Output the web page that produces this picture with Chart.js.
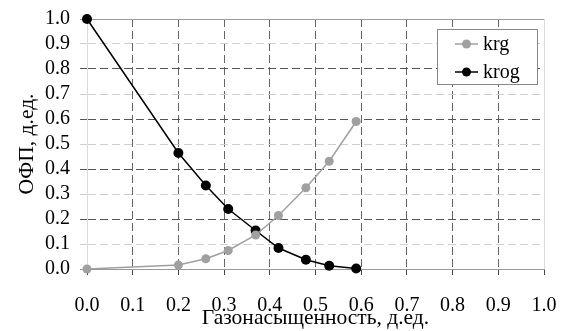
<!DOCTYPE html>
<html>
<head>
<meta charset="utf-8">
<script src="https://cdn.jsdelivr.net/npm/chart.js@4"></script>
<style>
  html, body { margin: 0; padding: 0; background: #fff; }
  #wrap { width: 561px; height: 331px; }
</style>
</head>
<body>
<div id="wrap"><canvas id="myChart"></canvas></div>
<script>
// Газонасыщенность (x) and ОФП values
let sg = [0.0, 0.2, 0.26, 0.309, 0.369, 0.419, 0.479, 0.53, 0.589];
let krg = [0.0, 0.016, 0.041, 0.074, 0.136, 0.214, 0.325, 0.431, 0.59];
let krog = [1.0, 0.464, 0.334, 0.24, 0.154, 0.084, 0.037, 0.013, 0.002];
let seriesNames = ['krg', 'krog'];
let seriesColors = ['#a0a0a0', '#000000'];

let serif = "'Liberation Serif', 'Times New Roman', serif";

function toPoints(xs, ys) {
    return xs.map((x, i) => ({ x: x, y: ys[i] }));
}

// legend box drawn inside the plot, top right
const legendBox = {
    id: 'legendBox',
    afterDraw(chart) {
        const c = chart.ctx;
        const x0 = 437, y0 = 29, w = 100, h = 55;
        c.save();
        c.fillStyle = '#fff';
        c.fillRect(x0, y0, w, h);
        c.strokeStyle = '#888';
        c.lineWidth = 1;
        c.strokeRect(x0 + 0.5, y0 + 0.5, w, h);
        seriesNames.forEach((name, i) => {
            const cy = y0 + 15 + i * 28;
            c.strokeStyle = seriesColors[i];
            c.lineWidth = 1.5;
            c.beginPath();
            c.moveTo(455, cy);
            c.lineTo(478, cy);
            c.stroke();
            c.fillStyle = seriesColors[i];
            c.beginPath();
            c.arc(466.5, cy, 4.5, 0, Math.PI * 2);
            c.fill();
            c.fillStyle = '#000';
            c.font = '20px ' + serif;
            c.textBaseline = 'middle';
            c.fillText(name, 483, cy + 1);
        });
        c.restore();
    }
};

function tenth(v) {
    return Math.round(v * 10);
}

const ctx = document.getElementById('myChart').getContext('2d');
const myChart = new Chart(ctx, {
    type: 'line',
    data: {
        datasets: [{
            label: seriesNames[0],
            data: toPoints(sg, krg),
            borderColor: seriesColors[0],
            backgroundColor: seriesColors[0],
            borderWidth: 1.5,
            pointRadius: 4.5,
            pointBorderWidth: 0,
            tension: 0,
            clip: false
        }, {
            label: seriesNames[1],
            data: toPoints(sg, krog),
            borderColor: seriesColors[1],
            backgroundColor: seriesColors[1],
            borderWidth: 1.5,
            pointRadius: 5,
            pointBorderWidth: 0,
            tension: 0,
            clip: false
        }]
    },
    options: {
        responsive: true,
        maintainAspectRatio: false,
        animation: false,
        layout: { padding: { top: 19, right: 17, left: 0, bottom: 0 } },
        plugins: {
            legend: { display: false },
            tooltip: { enabled: false }
        },
        scales: {
            x: {
                type: 'linear',
                min: 0,
                max: 1,
                afterFit: s => {
                    s.height = 62;
                    s.paddingLeft = 0;
                    s.paddingRight = 0;
                },
                ticks: {
                    stepSize: 0.1,
                    autoSkip: false,
                    color: '#000',
                    padding: 19,
                    maxRotation: 0,
                    font: { family: serif, size: 20 },
                    callback: v => v.toFixed(1)
                },
                grid: {
                    color: c => (tenth(c.tick.value) === 0 || tenth(c.tick.value) === 10) ? '#dcdcdc' : '#666',
                    lineWidth: 1,
                    tickLength: 6,
                    tickColor: '#444'
                },
                border: {
                    color: '#999',
                    dash: c => (c.tick && tenth(c.tick.value) > 0 && tenth(c.tick.value) < 10) ? [8, 4] : []
                },
                title: {
                    display: true,
                    text: 'Газонасыщенность, д.ед.',
                    color: '#000',
                    font: { family: serif, size: 21.5 },
                    padding: { top: 0, bottom: 0 }
                }
            },
            y: {
                min: 0,
                max: 1,
                afterFit: s => {
                    s.width = 87;
                    s.paddingTop = 0;
                    s.paddingBottom = 0;
                },
                ticks: {
                    stepSize: 0.1,
                    autoSkip: false,
                    color: '#000',
                    padding: 10,
                    font: { family: serif, size: 20 },
                    callback: v => v.toFixed(1)
                },
                grid: {
                    color: c => {
                        const t = tenth(c.tick.value);
                        if (t === 0 || t === 10) return '#999';
                        return t % 2 === 0 ? '#555' : '#cfcfcf';
                    },
                    lineWidth: 1,
                    tickLength: 7
                },
                border: {
                    color: '#dcdcdc',
                    dash: c => (c.tick && tenth(c.tick.value) > 0 && tenth(c.tick.value) < 10) ? [8, 4] : []
                },
                title: {
                    display: true,
                    text: 'ОФП, д.ед.',
                    color: '#000',
                    font: { family: serif, size: 21.5 },
                    padding: { top: 14, bottom: 0 }
                }
            }
        }
    },
    plugins: [legendBox]
});
</script>
</body>
</html>
